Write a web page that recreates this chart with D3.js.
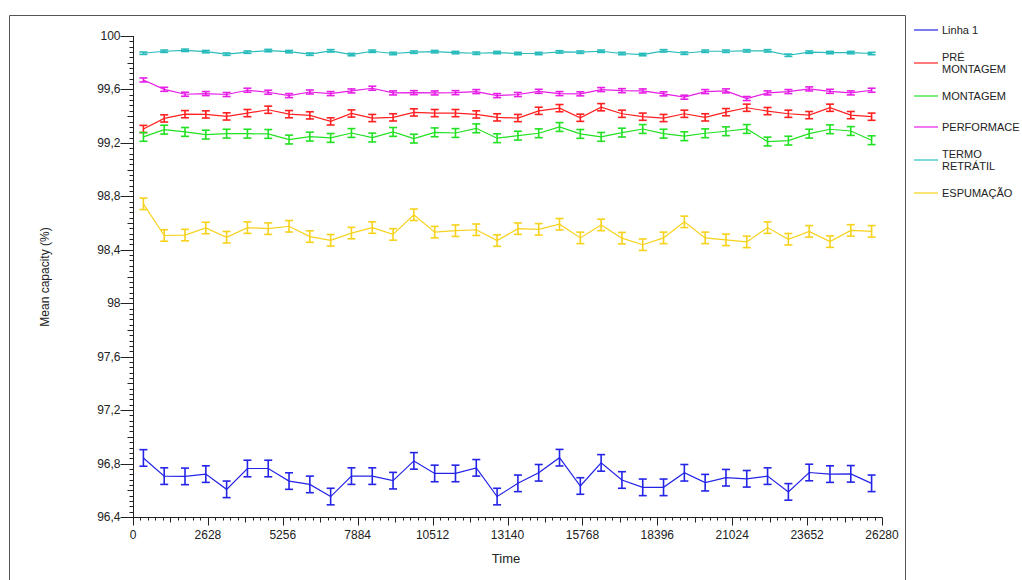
<!DOCTYPE html>
<html>
<head>
<meta charset="utf-8">
<script src="https://cdn.jsdelivr.net/npm/d3@7"></script>
<style>
  body { margin: 0; background: #fff; }
  text { font-family: "Liberation Sans", Arial, sans-serif; fill: #222; }
</style>
</head>
<body>
<div id="chart"></div>
<script>
// time of each monthly sample (hours)
var times = [365, 1095, 1825, 2555, 3285, 4015, 4745, 5475, 6205, 6935, 7665, 8395,
  9125, 9855, 10585, 11315, 12045, 12775, 13505, 14235, 14965, 15695, 16425, 17155,
  17885, 18615, 19345, 20075, 20805, 21535, 22265, 22995, 23725, 24455, 25185, 25915];

var seriesNames = ["Linha 1", "PRÉ\nMONTAGEM", "MONTAGEM", "PERFORMACE", "TERMO\nRETRÁTIL", "ESPUMAÇÃO"];
var seriesColors = ["#2424e8", "#ff2020", "#22e022", "#e61ee6", "#2abcbc", "#f7d21c"];

var linha1 = [96.842, 96.706, 96.704, 96.721, 96.607, 96.763, 96.763, 96.669, 96.644, 96.553, 96.706, 96.706,
  96.672, 96.820, 96.726, 96.726, 96.768, 96.553, 96.652, 96.731, 96.844, 96.632, 96.805, 96.677,
  96.622, 96.622, 96.731, 96.657, 96.694, 96.686, 96.706, 96.588, 96.733, 96.721, 96.723, 96.652];
var preMontagem = [99.304, 99.383, 99.415, 99.413, 99.398, 99.423, 99.448, 99.415, 99.406, 99.361, 99.420, 99.386,
  99.391, 99.428, 99.423, 99.423, 99.413, 99.391, 99.386, 99.440, 99.460, 99.388, 99.467, 99.418,
  99.396, 99.386, 99.418, 99.391, 99.430, 99.463, 99.438, 99.418, 99.408, 99.463, 99.408, 99.396];
var montagem = [99.245, 99.299, 99.282, 99.262, 99.269, 99.269, 99.267, 99.225, 99.247, 99.237, 99.274, 99.240,
  99.282, 99.232, 99.279, 99.274, 99.309, 99.235, 99.254, 99.272, 99.319, 99.267, 99.245, 99.277,
  99.304, 99.269, 99.250, 99.272, 99.287, 99.304, 99.210, 99.217, 99.269, 99.302, 99.289, 99.220];
var performace = [99.671, 99.601, 99.564, 99.569, 99.562, 99.594, 99.579, 99.554, 99.581, 99.569, 99.589, 99.609,
  99.574, 99.576, 99.574, 99.576, 99.584, 99.554, 99.562, 99.586, 99.569, 99.567, 99.599, 99.591,
  99.589, 99.567, 99.542, 99.584, 99.589, 99.532, 99.574, 99.584, 99.604, 99.586, 99.574, 99.594];
var termoRetratil = [99.871, 99.886, 99.893, 99.883, 99.864, 99.879, 99.891, 99.883, 99.864, 99.889, 99.861, 99.886,
  99.869, 99.879, 99.883, 99.876, 99.871, 99.876, 99.869, 99.869, 99.881, 99.879, 99.886, 99.869,
  99.861, 99.889, 99.871, 99.886, 99.886, 99.889, 99.889, 99.856, 99.879, 99.876, 99.876, 99.869];
var espumacao = [98.744, 98.507, 98.510, 98.563, 98.494, 98.566, 98.558, 98.576, 98.499, 98.471, 98.525, 98.566,
  98.515, 98.662, 98.532, 98.543, 98.550, 98.469, 98.558, 98.553, 98.591, 98.489, 98.586, 98.487,
  98.438, 98.489, 98.609, 98.489, 98.474, 98.459, 98.566, 98.479, 98.538, 98.461, 98.545, 98.538];

// half height of the error bars, one per series
var seriesErrors = [0.062, 0.027, 0.033, 0.015, 0.009, 0.043];

var xTicks = [0, 2628, 5256, 7884, 10512, 13140, 15768, 18396, 21024, 23652, 26280];
var yTicks = [96.4, 96.8, 97.2, 97.6, 98, 98.4, 98.8, 99.2, 99.6, 100];

var allSeries = [linha1, preMontagem, montagem, performace, termoRetratil, espumacao];

var W = 1022, H = 580;
var svg = d3.select("#chart").append("svg")
  .attr("width", W)
  .attr("height", H);

// outer frame
svg.append("path")
  .attr("d", "M9.5,590 V15.5 H905.5 V590")
  .attr("fill", "none")
  .attr("stroke", "#555")
  .attr("stroke-width", 1);

var x = d3.scaleLinear().domain([0, 26280]).range([133, 882]);
var y = d3.scaleLinear().domain([96.4, 100]).range([517, 36]);

var fmt = function (d) { return d3.format("~g")(d).replace(".", ","); };

// minor ticks (10 per interval, the middle one a bit longer)
var xMinor = d3.range(0, 101).map(function (k) { return k * 262.8; });
var yMinor = d3.range(0, 91).map(function (k) { return 96.4 + k * 0.04; });

var gx = svg.append("g").attr("transform", "translate(0,517.5)");
gx.selectAll("line.minor").data(xMinor).enter().append("line")
  .attr("x1", function (d) { return Math.round(x(d)) + 0.5; })
  .attr("x2", function (d) { return Math.round(x(d)) + 0.5; })
  .attr("y1", 0)
  .attr("y2", function (d, i) { return i % 10 === 0 ? 8 : (i % 5 === 0 ? 5 : 3); })
  .attr("stroke", "#222");
gx.append("line").attr("x1", 133).attr("x2", 882.5).attr("y1", 0).attr("y2", 0).attr("stroke", "#222");
gx.selectAll("text").data(xTicks).enter().append("text")
  .attr("x", function (d) { return x(d); })
  .attr("y", 21)
  .attr("text-anchor", "middle")
  .style("font-size", "12px")
  .text(function (d) { return d; });

var gy = svg.append("g").attr("transform", "translate(133.5,0)");
gy.selectAll("line.minor").data(yMinor).enter().append("line")
  .attr("y1", function (d) { return Math.round(y(d)) + 0.5; })
  .attr("y2", function (d) { return Math.round(y(d)) + 0.5; })
  .attr("x1", 0)
  .attr("x2", function (d, i) { return i % 10 === 0 ? -13 : (i % 5 === 0 ? -6 : -4); })
  .attr("stroke", "#222");
gy.append("line").attr("y1", 36).attr("y2", 517.5).attr("x1", 0).attr("x2", 0).attr("stroke", "#222");
gy.selectAll("text").data(yTicks).enter().append("text")
  .attr("x", -13)
  .attr("y", function (d) { return y(d) + 4; })
  .attr("text-anchor", "end")
  .style("font-size", "12px")
  .text(fmt);

// axis titles
svg.append("text")
  .attr("transform", "translate(49,277) rotate(-90)")
  .attr("text-anchor", "middle")
  .style("font-size", "12px")
  .text("Mean capacity (%)");
svg.append("text")
  .attr("x", 506)
  .attr("y", 563)
  .attr("text-anchor", "middle")
  .style("font-size", "13px")
  .text("Time");

// series with error bars
var line = d3.line()
  .x(function (d) { return x(d.t); })
  .y(function (d) { return y(d.v); });

allSeries.forEach(function (vals, s) {
  var pts = vals.map(function (v, i) { return {t: times[i], v: v, e: seriesErrors[s]}; });
  var g = svg.append("g");
  g.append("path")
    .datum(pts)
    .attr("d", line)
    .attr("fill", "none")
    .attr("stroke", seriesColors[s])
    .attr("stroke-width", 1.2);
  var bars = g.selectAll("g.bar").data(pts).enter().append("g")
    .attr("stroke", seriesColors[s])
    .attr("stroke-width", 1.6);
  bars.append("line")
    .attr("x1", function (d) { return x(d.t); })
    .attr("x2", function (d) { return x(d.t); })
    .attr("y1", function (d) { return y(d.v - d.e); })
    .attr("y2", function (d) { return y(d.v + d.e); });
  bars.append("line")
    .attr("x1", function (d) { return x(d.t) - 4; })
    .attr("x2", function (d) { return x(d.t) + 4; })
    .attr("y1", function (d) { return y(d.v + d.e); })
    .attr("y2", function (d) { return y(d.v + d.e); });
  bars.append("line")
    .attr("x1", function (d) { return x(d.t) - 4; })
    .attr("x2", function (d) { return x(d.t) + 4; })
    .attr("y1", function (d) { return y(d.v - d.e); })
    .attr("y2", function (d) { return y(d.v - d.e); });
});

// legend
var legendY = [30, 63, 96, 127, 160, 193];
var leg = svg.append("g");
seriesNames.forEach(function (name, i) {
  leg.append("line")
    .attr("x1", 914).attr("x2", 938)
    .attr("y1", legendY[i]).attr("y2", legendY[i])
    .attr("stroke", seriesColors[i])
    .attr("stroke-width", 1.2);
  var parts = name.split("\n");
  var t = leg.append("text")
    .attr("x", 942)
    .attr("y", legendY[i] + 4 - (parts.length - 1) * 6.5)
    .style("font-size", "11px");
  parts.forEach(function (p, k) {
    t.append("tspan").attr("x", 942).attr("dy", k === 0 ? 0 : 12.5).text(p);
  });
});
</script>
</body>
</html>
